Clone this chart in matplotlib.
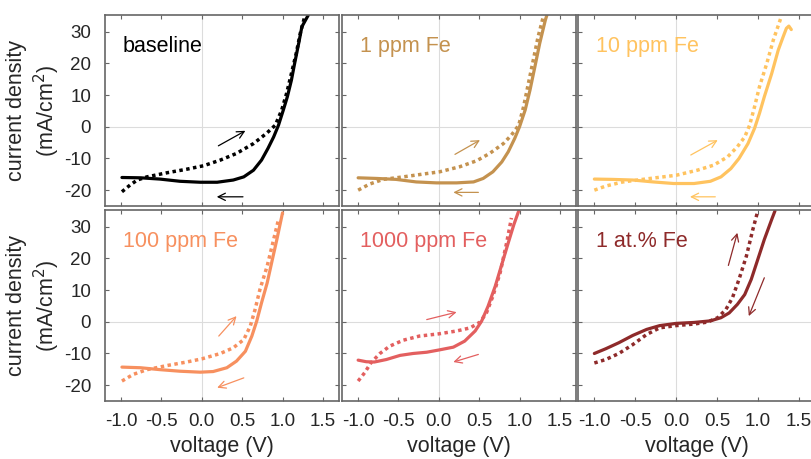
import matplotlib
matplotlib.use("Agg")
import matplotlib.pyplot as plt

plt.rcParams['font.family'] = ['Liberation Sans', 'DejaVu Sans']
plt.rcParams['axes.unicode_minus'] = False

labels = ["baseline", "1 ppm Fe", "10 ppm Fe", "100 ppm Fe", "1000 ppm Fe", "1 at.% Fe"]
colors = ["#000000", "#C4924F", "#FFC35F", "#F7905F", "#E35F5F", "#8E2A2A"]

# reverse sweep (solid)
rev_v = [
    [-0.99, -0.76, -0.52, -0.27, -0.02, 0.19, 0.39, 0.52, 0.64, 0.74, 0.82, 0.89, 0.95,
     1.01, 1.06, 1.11, 1.15, 1.20, 1.24, 1.32],
    [-1.0, -0.77, -0.53, -0.28, -0.03, 0.22, 0.43, 0.55, 0.67, 0.78, 0.86, 0.94, 1.0,
     1.07, 1.13, 1.19, 1.25, 1.32, 1.34],
    [-1.0, -0.78, -0.53, -0.28, -0.03, 0.22, 0.42, 0.55, 0.67, 0.77, 0.88, 0.96, 1.02,
     1.08, 1.17, 1.25, 1.31, 1.35, 1.38, 1.41],
    [-0.99, -0.76, -0.52, -0.27, -0.02, 0.14, 0.31, 0.43, 0.54, 0.62, 0.68, 0.74, 0.81,
     0.87, 0.93, 1.0],
    [-1.0, -0.9, -0.8, -0.65, -0.48, -0.32, -0.15, 0.0, 0.18, 0.32, 0.45, 0.53, 0.61,
     0.70, 0.78, 0.86, 0.93, 0.99],
    [-1.0, -0.86, -0.7, -0.53, -0.36, -0.2, 0.0, 0.22, 0.42, 0.55, 0.65, 0.75, 0.84,
     0.92, 1.0, 1.08, 1.17, 1.21],
]
rev_j = [
    [-16.0, -16.1, -16.5, -17.2, -17.5, -17.5, -16.8, -15.8, -13.7, -10.5, -6.8, -3.2, 0.5,
     5.3, 9.5, 14.7, 20.0, 26.3, 31.6, 35.3],
    [-16.1, -16.3, -16.6, -17.4, -17.7, -17.7, -17.4, -16.3, -14.2, -11.1, -7.9, -3.7, 0.0,
     5.3, 11.6, 18.9, 26.3, 33.7, 35.3],
    [-16.5, -16.6, -16.8, -17.4, -17.9, -17.9, -17.2, -15.8, -13.2, -10.0, -5.3, -0.5, 4.2,
     9.5, 16.8, 24.2, 28.4, 31.1, 31.8, 30.7],
    [-14.3, -14.5, -15.1, -15.6, -15.9, -15.7, -14.5, -12.4, -9.3, -4.5, 0.2, 6.0, 12.3,
     19.2, 26.0, 34.4],
    [-12.1, -12.6, -12.7, -11.9, -10.6, -10.0, -9.6, -8.9, -8.0, -6.1, -2.9, 0.2, 4.9,
     11.3, 18.1, 24.9, 30.7, 35.0],
    [-10.0, -8.5, -6.6, -4.3, -2.4, -1.2, -0.5, -0.2, 0.3, 1.3, 2.8, 5.5, 8.6,
     13.4, 19.7, 26.0, 32.3, 35.0],
]

# forward sweep (dotted)
fwd_v = [
    [-0.99, -0.89, -0.80, -0.68, -0.43, -0.19, 0.02, 0.23, 0.43, 0.64, 0.80, 0.91, 0.99,
     1.05, 1.11, 1.17, 1.22, 1.28],
    [-1.0, -0.86, -0.69, -0.44, -0.19, 0.01, 0.26, 0.47, 0.63, 0.80, 0.90, 0.99, 1.05,
     1.11, 1.17, 1.23, 1.30],
    [-1.0, -0.86, -0.65, -0.41, 0.0, 0.26, 0.46, 0.63, 0.75, 0.84, 0.90, 0.96, 1.02,
     1.11, 1.19, 1.28],
    [-0.99, -0.85, -0.68, -0.43, -0.19, 0.0, 0.23, 0.39, 0.52, 0.60, 0.66, 0.72, 0.81,
     0.89, 0.95],
    [-1.0, -0.92, -0.84, -0.73, -0.61, -0.44, -0.24, 0.0, 0.22, 0.39, 0.51, 0.59, 0.67,
     0.76, 0.84, 0.90],
    [-1.0, -0.86, -0.70, -0.53, -0.36, -0.2, 0.0, 0.22, 0.38, 0.51, 0.61, 0.69, 0.77,
     0.86, 0.94, 1.0],
]
fwd_j = [
    [-20.5, -18.4, -16.8, -15.8, -14.5, -13.4, -12.3, -10.5, -8.4, -5.3, -2.1, 0.5, 5.3,
     10.5, 16.8, 23.2, 29.5, 35.3],
    [-20.0, -18.1, -16.6, -15.8, -14.9, -14.2, -12.6, -10.7, -8.4, -5.3, -2.6, 0.5, 6.3,
     13.7, 21.0, 28.4, 35.3],
    [-20.0, -18.7, -17.4, -16.6, -15.3, -13.7, -12.1, -9.5, -6.3, -3.2, 0.5, 6.3, 12.6,
     20.0, 27.4, 34.2],
    [-18.7, -16.6, -15.1, -13.8, -12.7, -11.7, -10.0, -8.2, -5.6, -1.4, 3.9, 10.2, 17.6,
     26.0, 32.3],
    [-18.7, -16.1, -12.9, -10.0, -7.7, -5.8, -4.5, -3.8, -2.9, -1.9, -0.1, 2.8, 8.1,
     15.5, 24.9, 32.8],
    [-13.0, -11.9, -10.0, -7.2, -4.0, -1.9, -1.2, -0.7, -0.1, 1.3, 3.9, 7.6, 13.4,
     20.7, 29.2, 35.0],
]

# sweep direction arrows: (tail, head) in data units
fwd_arrows = [((0.205, -6.0), (0.54, -1.25)), ((0.2, -8.7), (0.51, -4.2)),
              ((0.18, -8.9), (0.51, -4.2)), ((0.21, -4.5), (0.43, 1.8)),
              ((-0.15, 0.7), (0.22, 3.05)), ((0.64, 17.8), (0.75, 28.1))]
rev_arrows = [((0.51, -22.1), (0.185, -22.1)), ((0.49, -20.7), (0.18, -20.7)),
              ((0.48, -22.1), (0.17, -22.1)), ((0.52, -17.7), (0.19, -20.8)),
              ((0.49, -10.3), (0.18, -12.7)), ((1.08, 13.9), (0.89, 1.8))]

xticks = [-1.0, -0.5, 0.0, 0.5, 1.0, 1.5]
yticks = [-20, -10, 0, 10, 20, 30]

fig = plt.figure(figsize=(8.12, 4.59), dpi=100)
lefts = [105 / 812, 342 / 812, 578 / 812]
widths = [234 / 812, 234 / 812, 237 / 812]   # last panel runs past the right edge
bottoms = [(459 - 206) / 459, (459 - 401) / 459]
h = 191 / 459

for i in range(6):
    r, c = divmod(i, 3)
    ax = fig.add_axes([lefts[c], bottoms[r], widths[c], h])
    ax.set_xlim(-1.2, 1.7)
    ax.set_ylim(-25, 35.3)
    ax.axvline(0, color="#dcdcdc", lw=0.8, zorder=0)
    ax.axhline(0, color="#dcdcdc", lw=0.8, zorder=0)
    col = colors[i]
    ax.plot(rev_v[i], rev_j[i], color=col, lw=2.3, solid_capstyle="round",
            solid_joinstyle="round")
    ax.plot(fwd_v[i], fwd_j[i], color=col, lw=2.5, dashes=(1, 1))
    for (t, hd) in (fwd_arrows[i], rev_arrows[i]):
        ax.annotate("", xy=hd, xytext=t,
                    arrowprops=dict(arrowstyle="->", color=col, lw=0.9,
                                    mutation_scale=13, shrinkA=0, shrinkB=0))
    ax.text(-0.98, 25.2, labels[i], color=col, fontsize=15.5, va="center", ha="left")
    ax.set_xticks(xticks)
    ax.set_yticks(yticks)
    ax.tick_params(direction="in", length=3, width=0.8, color="#666666",
                   top=True, right=True, labelsize=13.5, labelcolor="#262626")
    ax.tick_params(axis="x", pad=9)
    ax.tick_params(axis="y", pad=10)
    for s in ax.spines.values():
        s.set_color("#666666")
        s.set_linewidth(1.2)
    if c == 0:
        ax.set_ylabel("current density\n(mA/cm$^2$)", fontsize=15.5,
                      color="#262626", labelpad=1, linespacing=1.25)
    else:
        ax.set_yticklabels([])
    if r == 1:
        ax.set_xticklabels([f"{t:.1f}" for t in xticks])
        ax.set_xlabel("voltage (V)", fontsize=15.5, color="#262626", labelpad=4)
    else:
        ax.set_xticklabels([])

fig.savefig("out.png", dpi=100)
